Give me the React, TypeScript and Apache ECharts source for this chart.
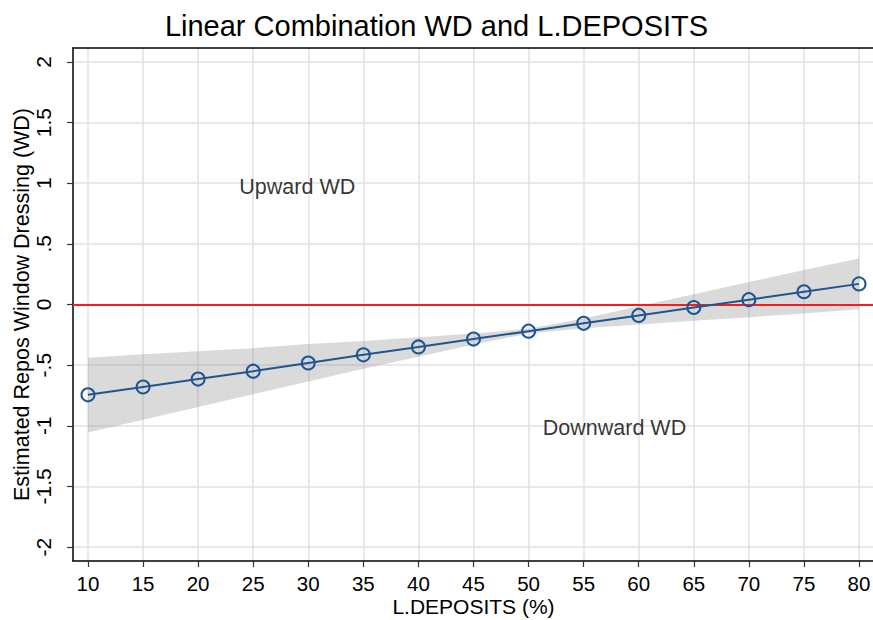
import React, { useEffect, useRef } from "react";
import * as echarts from "echarts";

const deposits = [10, 15, 20, 25, 30, 35, 40, 45, 50, 55, 60, 65, 70, 75, 80];
const estimate = [-0.745, -0.68, -0.615, -0.55, -0.482, -0.415, -0.35, -0.285, -0.22, -0.155, -0.09, -0.025, 0.04, 0.105, 0.17];
const ciLower = [-1.055, -0.95, -0.845, -0.74, -0.635, -0.53, -0.43, -0.33, -0.24, -0.195, -0.165, -0.135, -0.105, -0.075, -0.04];
const ciUpper = [-0.44, -0.41, -0.385, -0.36, -0.325, -0.3, -0.27, -0.24, -0.2, -0.115, -0.015, 0.085, 0.185, 0.285, 0.38];
const xTicks = [10, 15, 20, 25, 30, 35, 40, 45, 50, 55, 60, 65, 70, 75, 80];
const yTicks = [-2, -1.5, -1, -0.5, 0, 0.5, 1, 1.5, 2];
const annotations = [
  { name: "Upward WD", x: 29.0, y: 0.97 },
  { name: "Downward WD", x: 57.8, y: -1.02 },
];

const FONT = "'Liberation Sans', Arial, Helvetica, sans-serif";

function fmtY(v: number): string {
  if (v === 0) return "0";
  const s = String(v);
  return s.replace(/^0\./, ".").replace(/^-0\./, "-.");
}

export default function App() {
  const ref = useRef<HTMLDivElement>(null);
  useEffect(() => {
    if (!ref.current) return;
    const chart = echarts.init(ref.current, null, { renderer: "svg" });
    const bandPts = deposits.map((d, i) => [d, ciLower[i], ciUpper[i]]);
    chart.setOption({
      animation: false,
      backgroundColor: "#ffffff",
      textStyle: { fontFamily: FONT },
      title: {
        text: "Linear Combination WD and L.DEPOSITS",
        left: "center",
        top: 6,
        textStyle: { fontFamily: FONT, fontSize: 29, fontWeight: "normal", color: "#000" },
      },
      grid: { left: 73, top: 48, width: 801, height: 513, containLabel: false, outerBoundsMode: "none" },
      xAxis: [
        {
          type: "value",
          min: 8.64,
          max: 81.36,
          name: "L.DEPOSITS (%)",
          nameLocation: "middle",
          nameGap: 35,
          nameMoveOverlap: false,
          nameTextStyle: { fontFamily: FONT, fontSize: 21, color: "#000" },
          axisLine: { show: true, onZero: false, lineStyle: { color: "#000", width: 1.5 } },
          axisTick: { show: true, length: 6, customValues: xTicks, lineStyle: { color: "#333", width: 1.2 } },
          axisLabel: { customValues: xTicks, margin: 12, fontFamily: FONT, fontSize: 20.5, color: "#000" },
          splitLine: { show: true, lineStyle: { color: "#e2e2e2", width: 1.5 } },
        },
        {
          type: "value",
          position: "top",
          min: 8.64,
          max: 81.36,
          axisLine: { show: true, onZero: false, lineStyle: { color: "#000", width: 1.5 } },
          axisTick: { show: false },
          axisLabel: { show: false },
          splitLine: { show: false },
        },
      ],
      yAxis: {
        type: "value",
        min: -2.115,
        max: 2.115,
        name: "Estimated Repos Window Dressing (WD)",
        nameLocation: "middle",
        nameGap: 40,
        nameMoveOverlap: false,
        nameRotate: 90,
        nameTextStyle: { fontFamily: FONT, fontSize: 21.5, color: "#000" },
        axisLine: { show: true, onZero: false, lineStyle: { color: "#000", width: 1.5 } },
        axisTick: { show: true, length: 6, customValues: yTicks, lineStyle: { color: "#333", width: 1.2 } },
        axisLabel: {
          customValues: yTicks,
          rotate: 90,
          margin: 19,
          fontFamily: FONT,
          fontSize: 21,
          color: "#000",
          formatter: (v: number) => fmtY(v),
        },
        splitLine: { show: true, lineStyle: { color: "#e2e2e2", width: 1.5 } },
      },
      series: [
        {
          type: "custom",
          xAxisIndex: 0,
          data: [0],
          z: 2,
          silent: true,
          renderItem: (params: any, api: any) => {
            const upper = bandPts.map((p) => api.coord([p[0], p[2]]));
            const lower = bandPts.map((p) => api.coord([p[0], p[1]])).reverse();
            return {
              type: "polygon",
              shape: { points: upper.concat(lower) },
              style: { fill: "rgba(150,150,150,0.35)", stroke: "none" },
            };
          },
        },
        {
          type: "line",
          xAxisIndex: 0,
          data: deposits.map((d, i) => [d, estimate[i]]),
          z: 5,
          symbol: "circle",
          symbolSize: 13,
          showSymbol: true,
          lineStyle: { color: "#1f5590", width: 2 },
          itemStyle: { color: "rgba(255,255,255,0)", borderColor: "#1f5590", borderWidth: 2 },
          markLine: {
            silent: true,
            symbol: "none",
            label: { show: false },
            lineStyle: { color: "#ff1a1a", width: 1.8, type: "solid" },
            data: [{ yAxis: 0 }],
          },
        },
        {
          type: "scatter",
          xAxisIndex: 0,
          symbolSize: 0,
          silent: true,
          data: annotations.map((a) => ({ name: a.name, value: [a.x, a.y] })),
          label: {
            show: true,
            position: "inside",
            formatter: (p: any) => p.name,
            fontFamily: FONT,
            fontSize: 21.5,
            color: "#000",
          },
        },
      ],
    });
    return () => chart.dispose();
  }, []);
  return <div ref={ref} style={{ width: 873, height: 620, position: "absolute", left: 0, top: 0 }} />;
}
